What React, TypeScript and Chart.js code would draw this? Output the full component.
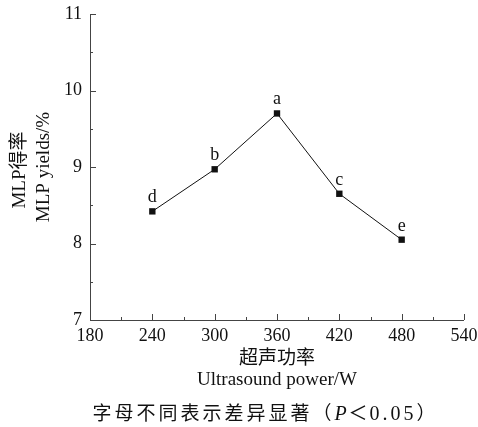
import React, { useEffect, useRef } from "react";
import { Chart, registerables } from "chart.js";

Chart.register(...registerables);

const powers = [240, 300, 360, 420, 480];
const yields = [8.42, 8.97, 9.7, 8.65, 8.05];
const letters = ["d", "b", "a", "c", "e"];
const xMin = 180, xMax = 540, xStep = 60;
const yMin = 7, yMax = 11, yStep = 1;
const yTitle = ["MLP得率", "MLP yields/%"];
const xTitle = ["超声功率", "Ultrasound power/W"];
const footnoteParts = [
  { t: "字母不同表示差异显著（", italic: false, spacing: 3, size: 19 },
  { t: "P", italic: true, spacing: 2, size: 20 },
  { t: "＜", italic: false, spacing: 2, size: 19 },
  { t: "0.05", italic: false, spacing: 3, size: 20 },
  { t: "）", italic: false, spacing: 0, size: 19 },
];

const FONT = '"Liberation Serif", "Noto Sans CJK SC", serif';
const AXIS = "#444";

const decor = {
  id: "decor",
  afterDraw(chart: any) {
    const ctx = chart.ctx;
    const { left, right, top, bottom } = chart.chartArea;
    const xs = chart.scales.x;
    const ys = chart.scales.y;
    ctx.save();
    ctx.strokeStyle = AXIS;
    ctx.lineWidth = 1;
    ctx.beginPath();
    ctx.moveTo(left + 0.5, top);
    ctx.lineTo(left + 0.5, bottom + 0.5);
    ctx.lineTo(right, bottom + 0.5);
    ctx.stroke();
    for (let v = yMin; v <= yMax + 1e-9; v += yStep / 2) {
      const p = Math.round(ys.getPixelForValue(v)) + 0.5;
      const major = Math.abs(v - Math.round(v)) < 1e-9;
      ctx.beginPath();
      ctx.moveTo(left, p);
      ctx.lineTo(left + (major ? 6 : 3), p);
      ctx.stroke();
    }
    for (let v = xMin; v <= xMax + 1e-9; v += xStep / 2) {
      const p = Math.round(xs.getPixelForValue(v)) + 0.5;
      const major = Math.abs((v - xMin) % xStep) < 1e-9;
      ctx.beginPath();
      ctx.moveTo(p, bottom);
      ctx.lineTo(p, bottom - (major ? 6 : 3));
      ctx.stroke();
    }
    ctx.fillStyle = "#111";
    ctx.font = `18px ${FONT}`;
    ctx.textAlign = "center";
    ctx.textBaseline = "alphabetic";
    powers.forEach((pw, i) => {
      const px = xs.getPixelForValue(pw);
      const py = ys.getPixelForValue(yields[i]);
      ctx.fillText(letters[i], px, py - 9);
    });
    const cx = (left + right) / 2;
    ctx.textBaseline = "middle";
    ctx.font = `19px ${FONT}`;
    ctx.fillText(xTitle[0], cx, 359);
    ctx.fillText(xTitle[1], cx, 380);
    // footnote
    ctx.textAlign = "left";
    const fonts = footnoteParts.map((p) => `${p.italic ? "italic " : ""}${p.size}px ${FONT}`);
    const widths: number[] = [];
    footnoteParts.forEach((p, i) => {
      ctx.font = fonts[i];
      (ctx as any).letterSpacing = `${p.spacing}px`;
      widths.push(ctx.measureText(p.t).width);
    });
    const total = widths.reduce((a, b) => a + b, 0);
    let fx = 264 - total / 2;
    footnoteParts.forEach((p, i) => {
      ctx.font = fonts[i];
      (ctx as any).letterSpacing = `${p.spacing}px`;
      ctx.fillText(p.t, fx, 415);
      fx += widths[i];
    });
    (ctx as any).letterSpacing = "0px";
    ctx.textAlign = "center";
    ctx.font = `19px ${FONT}`;
    const cy = (top + bottom) / 2;
    ctx.save();
    ctx.translate(20, cy + 3);
    ctx.rotate(-Math.PI / 2);
    ctx.fillText(yTitle[0], 0, 0);
    ctx.restore();
    ctx.save();
    ctx.translate(44, cy);
    ctx.rotate(-Math.PI / 2);
    ctx.fillText(yTitle[1], 0, 0);
    ctx.restore();
    ctx.restore();
  },
};

export default function App() {
  const ref = useRef<HTMLCanvasElement>(null);
  useEffect(() => {
    const chart = new Chart(ref.current!, {
      type: "line",
      data: {
        datasets: [
          {
            data: powers.map((p, i) => ({ x: p, y: yields[i] })),
            borderColor: "#111",
            backgroundColor: "#111",
            borderWidth: 1,
            pointStyle: "rect",
            pointRadius: 4.5,
            pointBorderWidth: 0,
            tension: 0,
          },
        ],
      },
      options: {
        responsive: false,
        animation: false,
        devicePixelRatio: 1,
        layout: { padding: { left: 0, top: 14, right: 14, bottom: 0 } },
        plugins: { legend: { display: false }, tooltip: { enabled: false } },
        scales: {
          x: {
            type: "linear",
            min: xMin,
            max: xMax,
            grid: { display: false, drawTicks: false },
            border: { display: false },
            ticks: { stepSize: xStep, padding: 5, color: "#111", font: { family: FONT, size: 18 } },
            afterFit: (s: any) => { s.height = 107; s.paddingLeft = 0; s.paddingRight = 0; },
          },
          y: {
            min: yMin,
            max: yMax,
            grid: { display: false, drawTicks: false },
            border: { display: false },
            ticks: { stepSize: yStep, padding: 8, color: "#111", font: { family: FONT, size: 18 } },
            afterFit: (s: any) => { s.width = 90; s.paddingTop = 0; s.paddingBottom = 0; },
          },
        },
      },
      plugins: [decor],
    });
    return () => chart.destroy();
  }, []);
  return (
    <div style={{ position: "fixed", left: 0, top: 0, width: 478, height: 427, background: "#fff" }}>
      <canvas ref={ref} width={478} height={427} />
    </div>
  );
}
